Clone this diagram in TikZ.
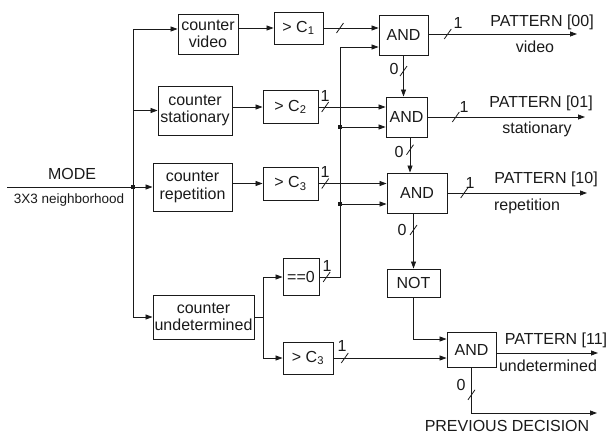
\documentclass[tikz,border=0pt]{standalone}
\usepackage{fontspec}
\setmainfont{Liberation Sans}
\usetikzlibrary{arrows.meta}
\definecolor{ink}{HTML}{1A1A1A}

\begin{document}
\begin{tikzpicture}[x=1pt,y=-1pt,
  font=\fontsize{16}{17.5}\selectfont,
  blk/.style={rectangle,draw=ink,line width=0.9pt,align=center,inner sep=0pt,text=ink},
  lbl/.style={inner sep=0pt,text=ink},
  dot/.style={rectangle,fill=ink,inner sep=0pt,minimum size=4pt},
  wire/.style={ink,line width=0.8pt},
  arr/.style={-{Triangle[length=7pt,width=5pt]},ink,line width=0.8pt},
  bus/.pic={\draw[-,ink,line width=0.8pt] (-3.5pt,-5pt) -- (3.5pt,5pt);}]

\useasboundingbox (0,0) rectangle (609,436);

% counters
\node[blk,minimum width=60,minimum height=40] (cvid) at (208,34) {counter\\video};
\node[blk,minimum width=74,minimum height=49] (csta) at (195,110.5) {counter\\stationary};
\node[blk,minimum width=79,minimum height=48] (crep) at (192.5,187) {counter\\repetition};
\node[blk,minimum width=101,minimum height=44] (cund) at (203.5,317) {counter\\undetermined};

% comparators
\node[blk,minimum width=49,minimum height=32] (gt1) at (298.5,28) {> C\textsubscript{1}};
\node[blk,minimum width=55,minimum height=33] (gt2) at (290.5,107) {> C\textsubscript{2}};
\node[blk,minimum width=55,minimum height=33] (gt3) at (290.5,183.5) {> C\textsubscript{3}};
\node[blk,minimum width=36,minimum height=37] (eq0) at (301,277) {==0};
\node[blk,minimum width=50,minimum height=32] (gt4) at (308,358) {> C\textsubscript{3}};

% gates
\node[blk,minimum width=49,minimum height=40] (and1) at (403.5,35) {AND};
\node[blk,minimum width=41,minimum height=40] (and2) at (406.5,117) {AND};
\node[blk,minimum width=60,minimum height=40] (and3) at (417,193) {AND};
\node[blk,minimum width=53,minimum height=28] (inv) at (413.5,283) {NOT};
\node[blk,minimum width=49,minimum height=35] (and4) at (471.5,349.5) {AND};

% input and distribution
\coordinate (in) at (7,187);
\node[dot] (j) at (133,187) {};
\node[lbl] (mode) at (72,174) {MODE};
\node[lbl,font=\fontsize{13.5}{15}\selectfont] (nbh) at (69,200) {3X3 neighborhood};
\draw[wire] (in) -- (j.center);
\draw[arr] (j.center) -- (crep.west);
\draw[arr] (j.center) |- (cvid.west |- 0,29);
\draw[arr] (j.center) |- (csta.west);
\draw[arr] (j.center) |- (cund.west);

\draw[arr] (cvid.east |- gt1.west) -- (gt1.west);
\draw[arr] (csta.east |- gt2.west) -- (gt2.west);
\draw[arr] (crep.east |- gt3.west) -- (gt3.west);
\coordinate (split) at (263,317);
\draw[wire] (cund.east) -- (split);
\draw[arr] (split) |- (eq0.west);
\draw[arr] (split) |- (gt4.west);

% comparator outputs
\draw[arr] (gt1.east) -- pic[pos=.3]{bus} (gt1.east -| and1.west);
\draw[arr] (gt2.east) -- pic[pos=.1]{bus} (gt2.east -| and2.west);
\draw[arr] (gt3.east) -- pic[pos=.1]{bus} (gt3.east -| and3.west);
\draw[arr] (gt4.east) -- pic[pos=.1]{bus} (gt4.east -| and4.west);
\node[lbl] (n2) at (325,96) {1};
\node[lbl] (n3) at (325,172) {1};
\node[lbl] (n4) at (342,346) {1};

% ==0 bus
\coordinate (bt) at (340,47);
\node[dot] (d2) at (340,127) {};
\node[dot] (d3) at (340,204) {};
\draw[arr] (eq0.east) -- pic[pos=.35]{bus} (eq0.east -| bt) -- (bt) -- (bt -| and1.west);
\node[lbl] (n5) at (327,266) {1};
\draw[arr] (d2.center) -- (d2 -| and2.west);
\draw[arr] (d3.center) -- (d3 -| and3.west);

% cascade
\draw[arr] (and1.south) -- pic[pos=.38]{bus} (and1.south |- and2.north);
\node[lbl] (z1) at (394,69) {0};
\draw[arr] ([xshift=3.5]and2.south) -- pic[pos=.35]{bus} ([xshift=3.5]and2.south |- and3.north);
\node[lbl] (z2) at (399,152) {0};
\draw[arr] (inv.north |- and3.south) -- pic[pos=.3]{bus} (inv.north);
\node[lbl] (z3) at (402,230) {0};
\draw[arr] (inv.south) |- ([yshift=10.5]and4.west);

% outputs
\coordinate (o1) at (577,34);
\coordinate (o2) at (585,117);
\coordinate (o3) at (587,193);
\coordinate (o4) at (598,353);
\coordinate (prev) at (597,413);
\draw[arr] (and1.east |- o1) -- pic[pos=.13]{bus} (o1);
\draw[arr] (and2.east |- o2) -- pic[pos=.18]{bus} (o2);
\draw[arr] (and3.east |- o3) -- pic[pos=.12]{bus} (o3);
\draw[arr] (and4.east |- o4) -- (o4);
\draw[arr] (and4.south) |- pic[pos=.3]{bus} (prev);
\node[lbl] (u1) at (458,23) {1};
\node[lbl] (u2) at (464,107) {1};
\node[lbl] (u3) at (470,183) {1};
\node[lbl] (z4) at (461,385) {0};

\node[lbl] (p1) at (542,22) {PATTERN [00]};
\node[lbl] (t1) at (535,47) {video};
\node[lbl] (p2) at (541,103) {PATTERN [01]};
\node[lbl] (t2) at (537,129) {stationary};
\node[lbl] (p3) at (546,179) {PATTERN [10]};
\node[lbl] (t3) at (527,206) {repetition};
\node[lbl] (p4) at (556,340) {PATTERN [11]};
\node[lbl] (t4) at (548,366) {undetermined};
\node[lbl] (pd) at (507,426) {PREVIOUS DECISION};
\end{tikzpicture}
\end{document}
